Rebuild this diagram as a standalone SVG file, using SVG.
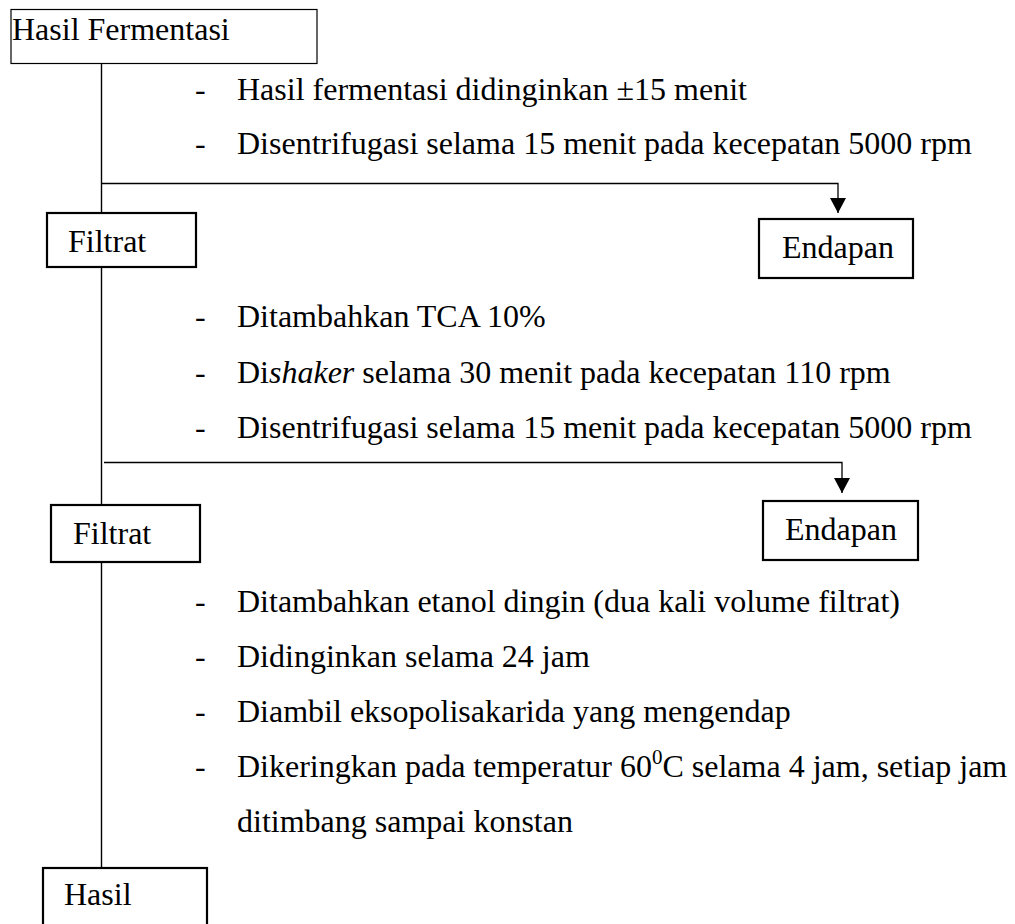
<svg xmlns="http://www.w3.org/2000/svg" width="1015" height="924" viewBox="0 0 1015 924">
<style>
text{font-family:"Liberation Serif","Times New Roman",serif;font-size:32px;fill:#000}
.box{fill:#fff;stroke:#000;stroke-width:2.2}
.thin{fill:#fff;stroke:#000;stroke-width:1.2}
.line{fill:none;stroke:#000;stroke-width:1.4}
.conn{fill:none;stroke:#000;stroke-width:1.3;marker-end:url(#arr)}
</style>
<defs>
<marker id="arr" markerUnits="userSpaceOnUse" markerWidth="15" markerHeight="16" viewBox="0 0 15 16" refX="15" refY="8" orient="auto">
<path d="M0 0 L15 8 L0 16 Z" fill="#000"/>
</marker>
</defs>
<rect width="1015" height="924" fill="#fff"/>
<g id="connectors">
<path class="line" d="M101.5 63 V213 M101.5 267 V505 M101.5 562 V868"/>
<path class="conn" d="M101.5 183.5 H838 V213"/>
<path class="conn" d="M104 462.5 H842 V493"/>
</g>
<g id="node-hasil-fermentasi">
<rect class="thin" x="11" y="9.5" width="306" height="54"/>
<text x="12" y="40">Hasil Fermentasi</text>
</g>
<g id="steps-1">
<text x="195" y="100">-</text>
<text x="237" y="100">Hasil fermentasi didinginkan ±15 menit</text>
<text x="195" y="154">-</text>
<text x="237" y="154">Disentrifugasi selama 15 menit pada kecepatan 5000 rpm</text>
</g>
<g id="node-filtrat-1">
<rect class="box" x="47" y="213" width="149" height="54"/>
<text x="68" y="252">Filtrat</text>
</g>
<g id="node-endapan-1">
<rect class="box" x="759" y="219" width="154" height="59"/>
<text x="782" y="258">Endapan</text>
</g>
<g id="steps-2">
<text x="195" y="327">-</text>
<text x="237" y="327">Ditambahkan TCA 10%</text>
<text x="195" y="383">-</text>
<text x="237" y="383">Di<tspan font-style="italic">shaker</tspan> selama 30 menit pada kecepatan 110 rpm</text>
<text x="195" y="438">-</text>
<text x="237" y="438">Disentrifugasi selama 15 menit pada kecepatan 5000 rpm</text>
</g>
<g id="node-filtrat-2">
<rect class="box" x="51" y="505" width="149" height="57"/>
<text x="73" y="544">Filtrat</text>
</g>
<g id="node-endapan-2">
<rect class="box" x="763" y="501" width="155" height="59"/>
<text x="785" y="540">Endapan</text>
</g>
<g id="steps-3">
<text x="195" y="612">-</text>
<text x="237" y="612">Ditambahkan etanol dingin (dua kali volume filtrat)</text>
<text x="195" y="667">-</text>
<text x="237" y="667">Didinginkan selama 24 jam</text>
<text x="195" y="722">-</text>
<text x="237" y="722">Diambil eksopolisakarida yang mengendap</text>
<text x="195" y="777">-</text>
<text x="237" y="777">Dikeringkan pada temperatur 60<tspan font-size="21" dy="-13">0</tspan><tspan dy="13">C selama 4 jam, setiap jam</tspan></text>
<text x="237" y="832">ditimbang sampai konstan</text>
</g>
<g id="node-hasil">
<rect class="box" x="43" y="868" width="164" height="62"/>
<text x="64" y="905">Hasil</text>
</g>
</svg>
